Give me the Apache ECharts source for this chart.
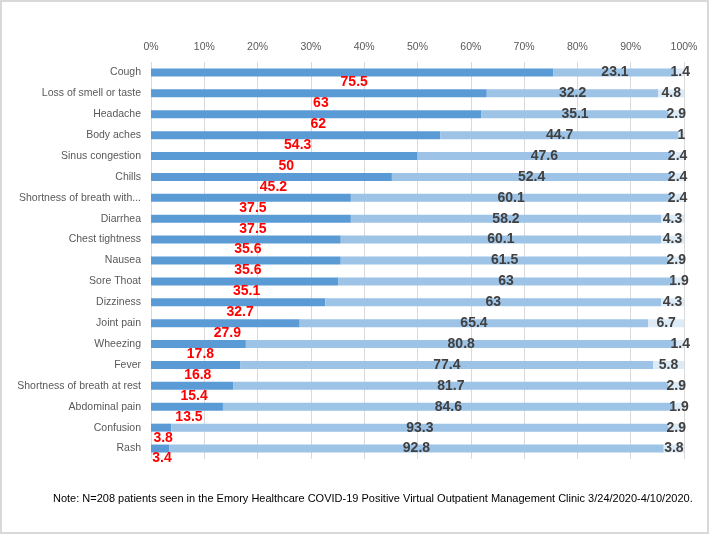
<!DOCTYPE html>
<html>
<head>
<meta charset="utf-8">
<script src="https://cdn.jsdelivr.net/npm/echarts@6/dist/echarts.min.js"></script>
<style>html,body{margin:0;padding:0;background:#fff}#c{width:709px;height:534px}</style>
</head>
<body>
<div id="c"></div>
<script>
const categories = ["Cough","Loss of smell or taste","Headache","Body aches","Sinus congestion","Chills","Shortness of breath with...","Diarrhea","Chest tightness","Nausea","Sore Thoat","Dizziness","Joint pain","Wheezing","Fever","Shortness of breath at rest","Abdominal pain","Confusion","Rash"];
const seriesA = [75.5,63,62,54.3,50,45.2,37.5,37.5,35.6,35.6,35.1,32.7,27.9,17.8,16.8,15.4,13.5,3.8,3.4];
const seriesB = [23.1,32.2,35.1,44.7,47.6,52.4,60.1,58.2,60.1,61.5,63,63,65.4,80.8,77.4,81.7,84.6,93.3,92.8];
const seriesC = [1.4,4.8,2.9,1,2.4,2.4,2.4,4.3,4.3,2.9,1.9,4.3,6.7,1.4,5.8,2.9,1.9,2.9,3.8];
const xTicks = [0,10,20,30,40,50,60,70,80,90,100];
const note = "Note: N=208 patients seen in the Emory Healthcare COVID-19 Positive Virtual Outpatient Management Clinic 3/24/2020-4/10/2020.";

const FONT = "Liberation Sans";
const chart = echarts.init(document.getElementById('c'), null, {renderer:'canvas'});
const darkLbl = {show:true, position:'inside', color:'#404040', fontWeight:'bold', fontSize:14, fontFamily:FONT};
chart.setOption({
  animation:false,
  textStyle:{fontFamily:FONT},
  grid:{left:151, right:25, top:62, bottom:75},
  xAxis:{type:'value', position:'top', min:xTicks[0], max:xTicks[xTicks.length-1], interval:10,
    axisLine:{show:false}, axisTick:{show:false},
    axisLabel:{formatter:'{value}%', color:'#595959', fontSize:10.5, margin:9, fontFamily:FONT},
    splitLine:{show:true, lineStyle:{color:'#d9d9d9', width:1}}},
  yAxis:{type:'category', data:categories, inverse:true,
    axisLine:{show:false}, axisTick:{show:false},
    axisLabel:{color:'#595959', fontSize:10.5, margin:10, fontFamily:FONT}},
  series:[
    {type:'bar', stack:'s', data:seriesA, barWidth:8, itemStyle:{color:'#5b9bd5'},
      label:{show:true, position:'inside', offset:[2,10], color:'#ff0000', fontWeight:'bold', fontSize:14, fontFamily:FONT}},
    {type:'bar', stack:'s', data:seriesB, barWidth:8, itemStyle:{color:'#9dc3e6'}, label:darkLbl},
    {type:'bar', stack:'s', data:seriesC, barWidth:8, itemStyle:{color:'#ddebf7'}, label:darkLbl}
  ],
  graphic:[
    {type:'rect', shape:{x:1, y:1, width:707, height:532}, style:{fill:'none', stroke:'#d9d9d9', lineWidth:2}, silent:true},
    {type:'text', left:53, top:493, style:{text:note, fill:'#000', fontSize:11, fontFamily:FONT}}
  ]
});
</script>
</body>
</html>
